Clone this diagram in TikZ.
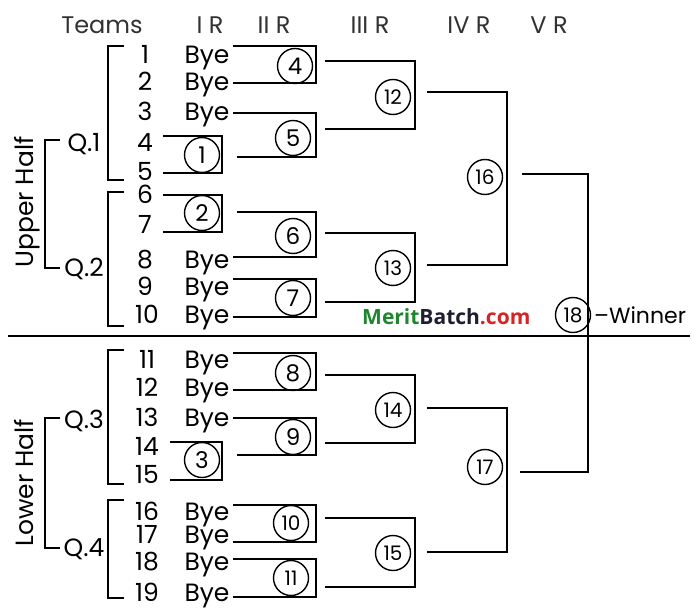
\documentclass[tikz,border=0pt]{standalone}
\usepackage{fontspec}
\setmainfont{Poppins}
\newfontfamily\wmfont{Open Sans}
\definecolor{mbgreen}{RGB}{30,135,45}
\definecolor{mbred}{RGB}{215,35,35}
\definecolor{mbdark}{RGB}{30,30,50}
\definecolor{hdr}{RGB}{50,50,50}
\begin{document}
\begin{tikzpicture}[x=1pt,y=-1pt,
  lbl/.style={font=\fontsize{25}{25}\selectfont, inner sep=0pt, text height=17pt, text depth=0pt, anchor=center},
  hd/.style={lbl, text=hdr, font=\fontsize{24}{24}\selectfont},
  circ/.style={circle, draw, line width=1.4pt, minimum size=35pt, inner sep=0pt, font=\fontsize{23}{23}\selectfont},
  circw/.style={circ, font=\fontsize{20}{20}\selectfont},
  ln/.style={line width=1.6pt, line join=miter}]
\useasboundingbox[fill=white] (0,0) rectangle (700,609);
% headers
\node[hd] (hT) at (102,25) {Teams};
\node[hd] (h1) at (210,25) {I R};
\node[hd] (h2) at (274,25) {II R};
\node[hd] (h3) at (370,25) {III R};
\node[hd] (h4) at (469,25) {IV R};
\node[hd] (h5) at (549,25) {V R};
% team numbers
\foreach \n/\y in {1/55,2/82,3/112,4/143,5/172,6/195,7/225,8/260,9/287}
  \node[lbl] (t\n) at (145,\y) {\n};
\foreach \n/\y in {10/315,11/360,12/388,13/418,14/447,15/475,16/512,17/535,18/562,19/593}
  \node[lbl] (t\n) at (147,\y) {\n};
% byes
\foreach \n/\y in {1/55,2/82,3/112,8/260,9/287,10/315,11/360,12/388,13/418,16/512,17/535,18/562,19/593}
  \node[lbl] (b\n) at (207,\y) {Bye};
% Q labels
\node[lbl] (q1) at (84,143) {Q.1};
\node[lbl] (q2) at (84,268) {Q.2};
\node[lbl] (q3) at (84,420) {Q.3};
\node[lbl] (q4) at (84,548) {Q.4};
\node[lbl, rotate=90] (hu) at (25,202) {Upper Half};
\node[lbl, rotate=90] (hl) at (25,483) {Lower Half};
% left brackets
\draw[ln] (124,46) -| (108,180) -- (124,180);
\draw[ln] (124,192) -| (108,326) -- (124,326);
\draw[ln] (124,350) -| (108,484) -- (124,484);
\draw[ln] (124,500) -| (108,598) -- (124,598);
\draw[ln] (60,140) -| (45,268) -- (60,268);
\draw[ln] (60,418) -| (45,548) -- (60,548);
% round I
\draw[ln] (163,136) -| (222,173) -- (163,173);
\draw[ln] (163,195) -| (222,232) -- (163,232);
\draw[ln] (170,442) -| (222,480) -- (170,480);
\node[circ] (m1) at (202,155) {1};
\node[circ] (m2) at (202,213) {2};
\node[circ] (m3) at (202,460) {3};
% round II
\draw[ln] (233,46) -| (316,83) -- (233,83);
\draw[ln] (233,113) -| (316,157) -- (237,157);
\draw[ln] (237,212) -| (316,257) -- (233,257);
\draw[ln] (233,279) -| (316,317) -- (233,317);
\draw[ln] (233,353) -| (316,390) -- (233,390);
\draw[ln] (233,418) -| (316,455) -- (237,455);
\draw[ln] (233,505) -| (316,542) -- (233,542);
\draw[ln] (233,559) -| (316,597) -- (233,597);
\node[circ] (m4) at (295,66) {4};
\node[circ] (m5) at (293,138) {5};
\node[circ] (m6) at (293,236) {6};
\node[circ] (m7) at (293,298) {7};
\node[circ] (m8) at (293,373) {8};
\node[circ] (m9) at (293,437) {9};
\node[circw] (m10) at (291,523) {10};
\node[circw] (m11) at (291,578) {11};
% round III
\draw[ln] (325,61) -| (415,129) -- (325,129);
\draw[ln] (325,233) -| (415,302) -- (325,302);
\draw[ln] (325,375) -| (415,443) -- (325,443);
\draw[ln] (325,518) -| (415,587) -- (325,587);
\node[circw] (m12) at (393,97) {12};
\node[circw] (m13) at (393,268) {13};
\node[circw] (m14) at (393,410) {14};
\node[circw] (m15) at (393,553) {15};
% round IV
\draw[ln] (427,92) -| (507,265) -- (427,265);
\draw[ln] (427,408) -| (507,552) -- (427,552);
\node[circw] (m16) at (485,177) {16};
\node[circw] (m17) at (485,467) {17};
% round V
\draw[ln] (522,174) -| (588,472) -- (520,472);
\node[circw, fill=white] (m18) at (573,315) {18};
\draw[ln] (588,296) -- (588,334);
\node[lbl, anchor=west, font=\fontsize{22}{22}\selectfont] (win) at (594,315) {–Winner};
% divider
\draw[ln] (8,336) -- (690,336);
% watermark
\node[inner sep=0pt, anchor=west, font=\wmfont\bfseries\fontsize{21}{21}\selectfont, text height=15pt, text depth=0pt] (wm) at (362,317)
  {\textcolor{mbgreen}{Merit}\textcolor{mbdark}{Batch}\textcolor{mbred}{.com}};
\end{tikzpicture}
\end{document}
